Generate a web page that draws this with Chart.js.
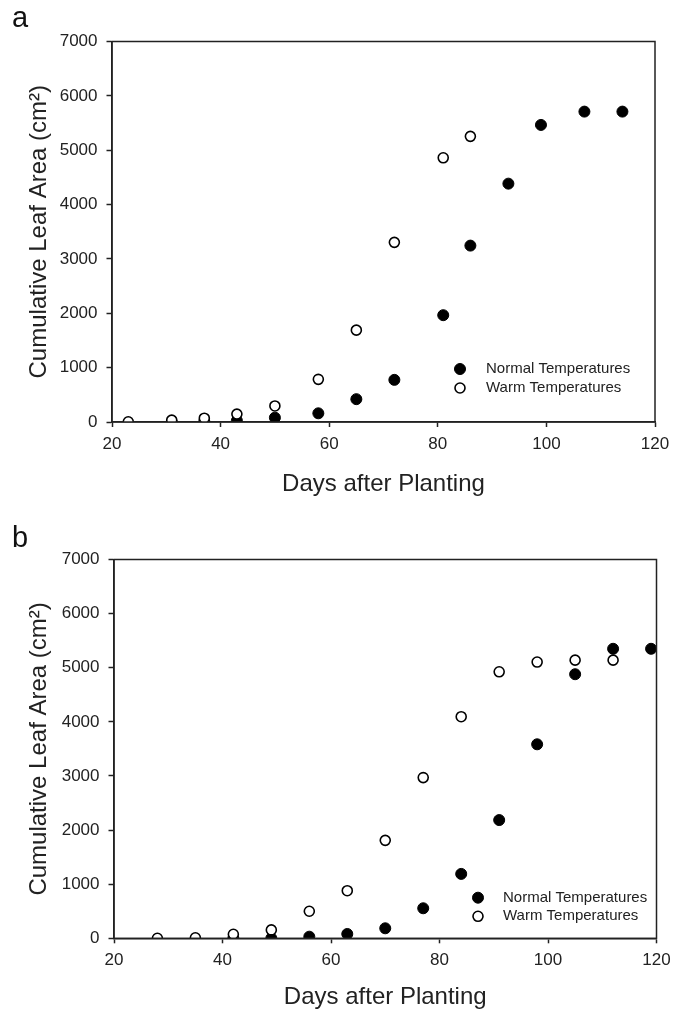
<!DOCTYPE html>
<html>
<head>
<meta charset="utf-8">
<script src="https://cdn.jsdelivr.net/npm/chart.js@4.4.0/dist/chart.umd.min.js"></script>
<style>
body { margin: 0; background: #fff; }
canvas { position: absolute; left: 0; }
#chartA { top: 0; }
#chartB { top: 505px; }
</style>
</head>
<body>
<canvas id="chartA" width="684" height="505"></canvas>
<canvas id="chartB" width="684" height="510"></canvas>
<script>
// Panel a
const daysNormalA = [31, 37, 43, 50, 58, 65, 72, 81, 86, 93, 99, 107, 114];
const areaNormalA = [0, 10, 25, 80, 160, 420, 775, 1965, 3245, 4385, 5465, 5710, 5710];
const daysWarmA = [23, 31, 37, 43, 50, 58, 65, 72, 81, 86];
const areaWarmA = [5, 35, 70, 145, 295, 785, 1690, 3305, 4860, 5255];

// Panel b
const daysNormalB = [42, 49, 56, 63, 70, 77, 84, 91, 98, 105, 112, 119];
const areaNormalB = [0, 0, 30, 80, 185, 555, 1190, 2185, 3585, 4880, 5350, 5350];
const daysWarmB = [28, 35, 42, 49, 56, 63, 70, 77, 84, 91, 98, 105, 112];
const areaWarmB = [0, 10, 75, 155, 500, 880, 1810, 2970, 4095, 4925, 5105, 5140, 5140];

// Axes
const xTicks = [20, 40, 60, 80, 100, 120];
const yTicks = [0, 1000, 2000, 3000, 4000, 5000, 6000, 7000];
const seriesLabels = ['Normal Temperatures', 'Warm Temperatures'];
const xTitle = 'Days after Planting';
const yTitle = 'Cumulative Leaf Area (cm\u00B2)';

const fontFamily = '"Liberation Sans", Arial, sans-serif';
const inkColor = '#222';

function toPoints(days, values) {
    return days.map((d, i) => ({ x: d, y: values[i] }));
}

// cadre autour de la zone du graphique
const framePlugin = {
    id: 'frame',
    afterDraw(chart) {
        const { ctx, chartArea: a } = chart;
        ctx.save();
        ctx.strokeStyle = inkColor;
        ctx.lineWidth = 1.5;
        ctx.strokeRect(a.left, a.top, a.right - a.left, a.bottom - a.top);
        ctx.restore();
    }
};

// légende dessinée à l'intérieur du graphique + lettre du panneau
const insideLegendPlugin = {
    id: 'insideLegend',
    afterDraw(chart, args, opts) {
        const ctx = chart.ctx;
        ctx.save();
        chart.data.datasets.forEach((ds, i) => {
            const y = opts.y + i * opts.gap;
            ctx.beginPath();
            ctx.arc(opts.x, y, ds.pointRadius, 0, Math.PI * 2);
            ctx.fillStyle = ds.pointBackgroundColor;
            ctx.fill();
            ctx.lineWidth = ds.pointBorderWidth;
            ctx.strokeStyle = ds.pointBorderColor;
            ctx.stroke();
            ctx.fillStyle = inkColor;
            ctx.font = '15px ' + fontFamily;
            ctx.textBaseline = 'middle';
            ctx.textAlign = 'left';
            ctx.fillText(ds.label, opts.textX, y);
        });
        ctx.font = '29px ' + fontFamily;
        ctx.textBaseline = 'alphabetic';
        ctx.fillStyle = '#111';
        ctx.fillText(opts.panel, opts.panelX, opts.panelY);
        ctx.restore();
    }
};

function makeChart(id, normal, warm, geo) {
    const ctx = document.getElementById(id).getContext('2d');
    return new Chart(ctx, {
        type: 'scatter',
        data: {
            datasets: [
                {
                    label: seriesLabels[0],
                    data: normal,
                    pointRadius: 5.5,
                    pointBackgroundColor: '#000',
                    pointBorderColor: '#000',
                    pointBorderWidth: 1,
                    order: 1
                },
                {
                    label: seriesLabels[1],
                    data: warm,
                    pointRadius: 5,
                    pointBackgroundColor: '#fff',
                    pointBorderColor: '#000',
                    pointBorderWidth: 1.6,
                    order: 0
                }
            ]
        },
        options: {
            responsive: false,
            animation: false,
            devicePixelRatio: 1,
            layout: {
                padding: { left: 0, top: geo.top, right: geo.right, bottom: 0 }
            },
            plugins: {
                legend: { display: false },
                tooltip: { enabled: false },
                insideLegend: geo.legend
            },
            scales: {
                x: {
                    type: 'linear',
                    min: 20,
                    max: 120,
                    afterBuildTicks: s => { s.ticks = xTicks.map(v => ({ value: v })); },
                    afterFit: s => { s.height = geo.xHeight; },
                    grid: { drawOnChartArea: false, tickLength: 5, tickColor: inkColor, tickWidth: 1.5 },
                    border: { color: inkColor, width: 1.5 },
                    ticks: { color: inkColor, font: { family: fontFamily, size: 17 }, padding: 7, maxRotation: 0,
                             callback: v => String(v) },
                    title: {
                        display: true,
                        text: xTitle,
                        color: inkColor,
                        font: { family: fontFamily, size: 24 },
                        padding: { top: 0, bottom: geo.xTitlePad }
                    }
                },
                y: {
                    type: 'linear',
                    min: 0,
                    max: 7000,
                    afterBuildTicks: s => { s.ticks = yTicks.map(v => ({ value: v })); },
                    afterFit: s => { s.width = geo.left; },
                    grid: { drawOnChartArea: false, tickLength: 5.5, tickColor: inkColor, tickWidth: 1.5 },
                    border: { color: inkColor, width: 1.5 },
                    ticks: { color: inkColor, font: { family: fontFamily, size: 17 }, padding: 9,
                             callback: v => String(v) },
                    title: {
                        display: true,
                        text: yTitle,
                        color: inkColor,
                        font: { family: fontFamily, size: 24 },
                        padding: { top: 25, bottom: 0 }
                    }
                }
            }
        },
        plugins: [framePlugin, insideLegendPlugin]
    });
}

makeChart('chartA', toPoints(daysNormalA, areaNormalA), toPoints(daysWarmA, areaWarmA), {
    top: 41.5, right: 29, left: 112, xHeight: 83, xTitlePad: 6,
    legend: { x: 460, y: 369, gap: 19, textX: 486, panel: 'a', panelX: 12, panelY: 27 }
});

makeChart('chartB', toPoints(daysNormalB, areaNormalB), toPoints(daysWarmB, areaWarmB), {
    top: 54.5, right: 27.5, left: 114, xHeight: 76.7, xTitlePad: 3,
    legend: { x: 478, y: 392.7, gap: 18.6, textX: 503, panel: 'b', panelX: 12, panelY: 42 }
});
</script>
</body>
</html>
